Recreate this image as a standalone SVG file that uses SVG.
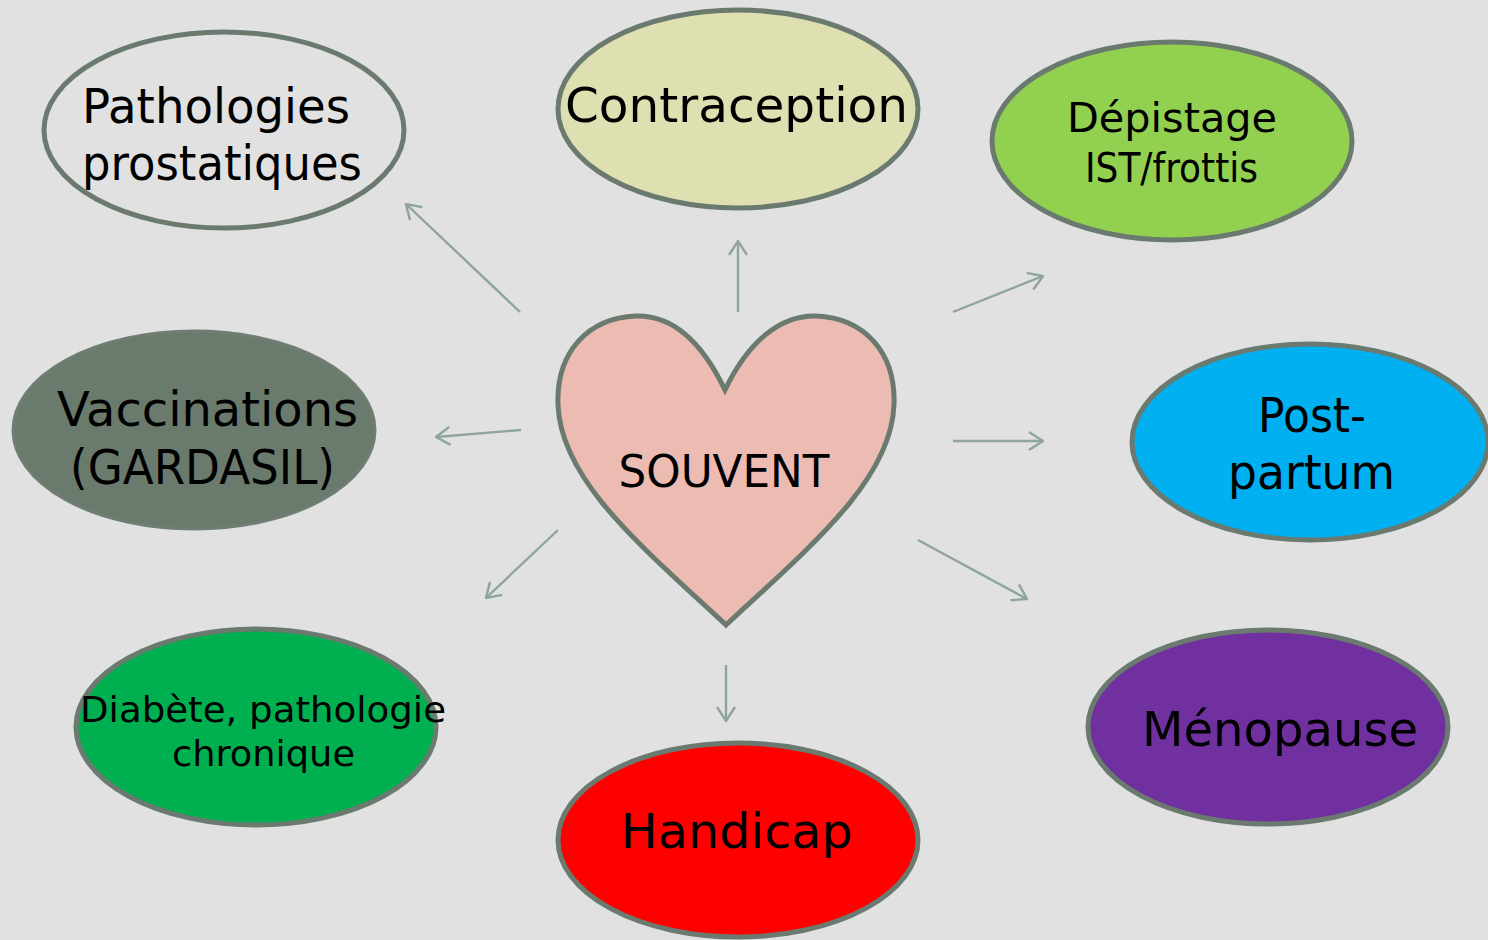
<svg xmlns="http://www.w3.org/2000/svg" width="1488" height="940" viewBox="0 0 1488 940">
<defs>
<style>
.node{stroke:#6b7a6f;stroke-width:5}
.lbl{font-family:"DejaVu Sans","Liberation Sans",sans-serif;fill:#000}
.arr{stroke:#8fa59b;stroke-width:2.4;fill:none}
</style>
<marker id="ah" viewBox="0 0 16 20" refX="15" refY="10" markerWidth="16" markerHeight="20" markerUnits="userSpaceOnUse" orient="auto">
<path d="M1,1 L15,10 L1,19" fill="none" stroke="#8fa59b" stroke-width="2.4"/>
</marker>
</defs>
<rect x="0" y="0" width="1488" height="940" fill="#e1e1e1"/>
<g id="connectors">
<line class="arr" x1="520" y1="312" x2="406" y2="204" marker-end="url(#ah)"/>
<line class="arr" x1="738" y1="312" x2="738" y2="241" marker-end="url(#ah)"/>
<line class="arr" x1="953" y1="312" x2="1043" y2="276" marker-end="url(#ah)"/>
<line class="arr" x1="521" y1="430" x2="436" y2="437" marker-end="url(#ah)"/>
<line class="arr" x1="953" y1="441" x2="1043" y2="441" marker-end="url(#ah)"/>
<line class="arr" x1="558" y1="530" x2="486" y2="598" marker-end="url(#ah)"/>
<line class="arr" x1="918" y1="540" x2="1027" y2="599" marker-end="url(#ah)"/>
<line class="arr" x1="726" y1="665" x2="726" y2="721" marker-end="url(#ah)"/>
</g>
<g id="n-souvent">
<path class="node" fill="#ecbcb2" d="M725,390 C702,342 672,315 636,316 C588,318 556,352 558,405 C561,480 640,545 726,625 C812,545 891,480 894,405 C896,352 864,318 816,316 C780,315 748,342 725,390 Z"/>
<text class="lbl" x="724" y="487" font-size="44" text-anchor="middle" textLength="211" lengthAdjust="spacingAndGlyphs">SOUVENT</text>
</g>
<g id="n-pathologies">
<ellipse class="node" cx="224" cy="130" rx="180" ry="98" fill="#e1e1e1"/>
<text class="lbl" x="82" y="123" font-size="48" textLength="268" lengthAdjust="spacingAndGlyphs">Pathologies</text>
<text class="lbl" x="82" y="180" font-size="48" textLength="280" lengthAdjust="spacingAndGlyphs">prostatiques</text>
</g>
<g id="n-contraception">
<ellipse class="node" cx="738" cy="109" rx="180" ry="99" fill="#dfe0b2"/>
<text class="lbl" x="565" y="122" font-size="48" textLength="343" lengthAdjust="spacingAndGlyphs">Contraception</text>
</g>
<g id="n-depistage">
<ellipse class="node" cx="1172" cy="141" rx="180" ry="99" fill="#92d050"/>
<text class="lbl" x="1067" y="132" font-size="40" textLength="210" lengthAdjust="spacingAndGlyphs">Dépistage</text>
<text class="lbl" x="1085" y="182" font-size="40" textLength="173" lengthAdjust="spacingAndGlyphs">IST/frottis</text>
</g>
<g id="n-vaccinations">
<ellipse cx="194" cy="430" rx="181" ry="99" fill="#6a7a6d" stroke="#6f7e72" stroke-width="3"/>
<text class="lbl" x="57" y="426" font-size="48" textLength="301" lengthAdjust="spacingAndGlyphs">Vaccinations</text>
<text class="lbl" x="70" y="484" font-size="48" textLength="265" lengthAdjust="spacingAndGlyphs">(GARDASIL)</text>
</g>
<g id="n-postpartum">
<ellipse class="node" cx="1310" cy="442" rx="178" ry="98" fill="#00b0f0"/>
<text class="lbl" x="1258" y="432" font-size="48" textLength="108" lengthAdjust="spacingAndGlyphs">Post-</text>
<text class="lbl" x="1228" y="489" font-size="48" textLength="167" lengthAdjust="spacingAndGlyphs">partum</text>
</g>
<g id="n-diabete">
<ellipse class="node" cx="256" cy="727" rx="180" ry="98" fill="#00b050"/>
<text class="lbl" x="80" y="722" font-size="36" textLength="366" lengthAdjust="spacingAndGlyphs">Diabète, pathologie</text>
<text class="lbl" x="172" y="766" font-size="36" textLength="183" lengthAdjust="spacingAndGlyphs">chronique</text>
</g>
<g id="n-handicap">
<ellipse class="node" cx="738" cy="840" rx="180" ry="97" fill="#ff0000"/>
<text class="lbl" x="621" y="848" font-size="48" textLength="232" lengthAdjust="spacingAndGlyphs">Handicap</text>
</g>
<g id="n-menopause">
<ellipse class="node" cx="1268" cy="727" rx="180" ry="97" fill="#7030a0"/>
<text class="lbl" x="1142" y="746" font-size="48" textLength="276" lengthAdjust="spacingAndGlyphs">Ménopause</text>
</g>
</svg>
